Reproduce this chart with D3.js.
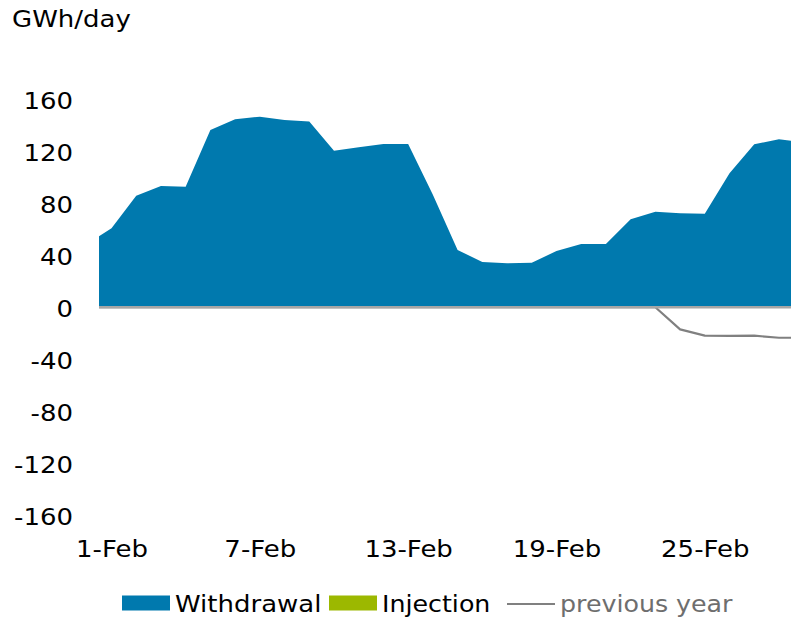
<!DOCTYPE html>
<html>
<head>
<meta charset="utf-8">
<script src="https://cdn.jsdelivr.net/npm/d3@7"></script>
<style>
  html, body { margin: 0; padding: 0; background: #fff; }
  svg { display: block; font-family: "DejaVu Sans", Verdana, sans-serif; }
</style>
</head>
<body>
<svg id="chart" width="791" height="618"></svg>
<script>
// Daily storage flows, GWh/day
const dates = [
  "2024-01-31", "2024-02-01", "2024-02-02", "2024-02-03", "2024-02-04", "2024-02-05",
  "2024-02-06", "2024-02-07", "2024-02-08", "2024-02-09", "2024-02-10", "2024-02-11",
  "2024-02-12", "2024-02-13", "2024-02-14", "2024-02-15", "2024-02-16", "2024-02-17",
  "2024-02-18", "2024-02-19", "2024-02-20", "2024-02-21", "2024-02-22", "2024-02-23",
  "2024-02-24", "2024-02-25", "2024-02-26", "2024-02-27", "2024-02-28", "2024-02-29"
];
const withdrawal = [
  48.7, 60.8, 85.9, 93.4, 92.9, 136.6,
  144.8, 146.8, 144.3, 143.0, 120.6, 123.2,
  125.8, 125.8, 86.7, 44.1, 34.9, 33.9,
  34.3, 43.3, 48.7, 48.7, 67.8, 73.6,
  72.4, 72.1, 103.2, 125.5, 129.4, 127.0
];
const injection = [
  0, 0, 0, 0, 0, 0,
  0, 0, 0, 0, 0, 0,
  0, 0, 0, 0, 0, 0,
  0, 0, 0, 0, 0, 0,
  0, 0, 0, 0, 0, 0
];
const previousYear = [
  0, 0, 0, 0, 0, 0,
  0, 0, 0, 0, 0, 0,
  0, 0, 0, 0, 0, 0,
  0, 0, 0, 0, 0, 0,
  -17.0, -21.9, -22.1, -21.9, -23.5, -23.5
];
const xTickLabels = ["2024-02-01", "2024-02-07", "2024-02-13", "2024-02-19", "2024-02-25"];
const yTicks = [-160, -120, -80, -40, 0, 40, 80, 120, 160];
const legendItems = ["Withdrawal", "Injection", "previous year"];

const colors = { withdrawal: "#0079ae", injection: "#9cb800", previous: "#808080", axis: "#a6a6a6" };
const sx = 1.13;          // horizontal text stretch
const fontSize = 23;

const parse = d3.utcParse("%Y-%m-%d");
const fmt = d3.utcFormat("%-d-%b");
const rows = dates.map((d, i) => ({
  date: parse(d), w: withdrawal[i], inj: injection[i], prev: previousYear[i]
}));

const svg = d3.select("#chart");
const plot = { left: 99, right: 791 };

const x = d3.scaleUtc()
  .domain([parse("2024-02-01"), parse("2024-02-25")])
  .range([111.5, 704.8]);
const y = d3.scaleLinear().domain([-160, 160]).range([515, 99.5]);

svg.append("defs").append("clipPath").attr("id", "plotClip")
  .append("rect")
  .attr("x", plot.left).attr("y", 0)
  .attr("width", plot.right - plot.left + 20).attr("height", 618);

const g = svg.append("g").attr("clip-path", "url(#plotClip)");

// Withdrawal area
g.append("path")
  .datum(rows)
  .attr("fill", colors.withdrawal)
  .attr("d", d3.area().x(d => x(d.date)).y0(y(0)).y1(d => y(d.w)));

// Injection area (negative side)
g.append("path")
  .datum(rows)
  .attr("fill", colors.injection)
  .attr("d", d3.area().x(d => x(d.date)).y0(y(0)).y1(d => y(d.inj)));

// Previous year line
g.append("path")
  .datum(rows)
  .attr("fill", "none")
  .attr("stroke", colors.previous)
  .attr("stroke-width", 2.2)
  .attr("stroke-linejoin", "round")
  .attr("d", d3.line().x(d => x(d.date)).y(d => y(d.prev)));

// Zero baseline
g.append("line")
  .attr("x1", plot.left).attr("x2", plot.right + 20)
  .attr("y1", y(0)).attr("y2", y(0))
  .attr("stroke", colors.axis).attr("stroke-width", 2.4);

// Y axis labels
const yAxis = svg.append("g")
  .attr("transform", `translate(${plot.left},2)`)
  .call(d3.axisLeft(y).tickValues(yTicks).tickSize(0).tickPadding(23).tickFormat(d => String(d)));
yAxis.select(".domain").remove();
yAxis.selectAll("text")
  .attr("font-size", fontSize).attr("fill", "#000")
  .attr("font-family", "DejaVu Sans, Verdana, sans-serif")
  .attr("transform", `scale(${sx},1)`);

// X axis labels
const xAxis = svg.append("g")
  .attr("transform", "translate(0,541)")
  .call(d3.axisBottom(x).tickValues(xTickLabels.map(parse)).tickSize(0).tickPadding(0).tickFormat(fmt));
xAxis.select(".domain").remove();
xAxis.selectAll("text")
  .attr("font-size", fontSize).attr("fill", "#000")
  .attr("font-family", "DejaVu Sans, Verdana, sans-serif")
  .attr("transform", `scale(${sx},1)`);

// Unit label
svg.append("text")
  .attr("transform", `translate(12,27) scale(${sx},1)`)
  .attr("font-size", fontSize).attr("fill", "#000")
  .text("GWh/day");

// Legend
const legend = svg.append("g").attr("class", "legend");
const legendY = 604;
const swatchW = 48, swatchH = 15;
const legendX = [122, 329, 507];
legendItems.forEach((name, i) => {
  const lg = legend.append("g").attr("transform", `translate(${legendX[i]},${legendY})`);
  if (i < 2) {
    lg.append("rect")
      .attr("x", 0).attr("y", -swatchH / 2 - 1)
      .attr("width", swatchW).attr("height", swatchH)
      .attr("fill", i === 0 ? colors.withdrawal : colors.injection);
  } else {
    lg.append("line")
      .attr("x1", 0).attr("x2", swatchW)
      .attr("y1", 0).attr("y2", 0)
      .attr("stroke", colors.previous).attr("stroke-width", 2);
  }
  lg.append("text")
    .attr("transform", `translate(${swatchW + 5},8) scale(${i === 0 ? sx : 1.1},1)`)
    .attr("font-size", fontSize)
    .attr("fill", i === 2 ? "#6e6e6e" : "#000")
    .text(name);
});
</script>
</body>
</html>
